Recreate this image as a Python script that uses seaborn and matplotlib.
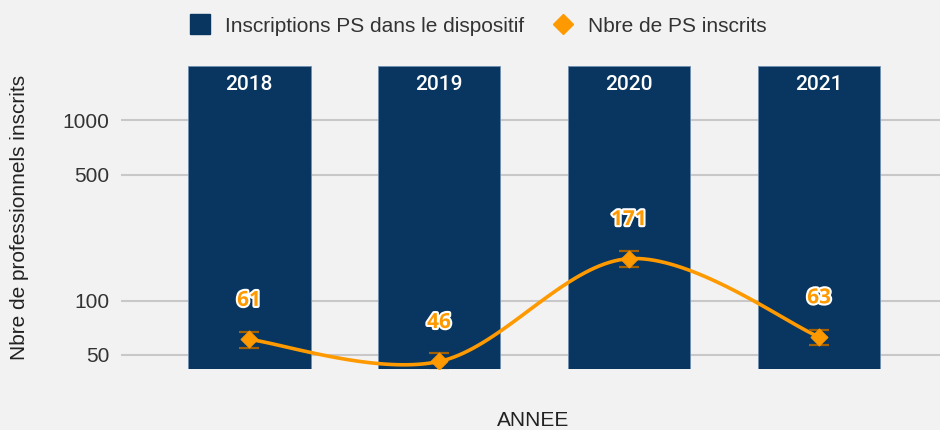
import numpy as np
import pandas as pd
import matplotlib
matplotlib.use('Agg')
import matplotlib.pyplot as plt
import matplotlib.patheffects as pe
from matplotlib.lines import Line2D
import seaborn as sns

# data
years = ["2018", "2019", "2020", "2021"]
inscriptions = [2000, 2000, 2000, 2000]   # bars run past the top of the axis
nb_ps = [61, 46, 171, 63]
nb_ps_err = [6, 5, 17, 6]
yticks = [50, 100, 500, 1000]

NAVY = "#083660"
ORANGE = "#ff9900"
ERR = "#a35f00"
BG = "#f2f2f2"


def catmull_rom(x, y, n=40):
    # smooth curve through the points (used only for drawing the line)
    px = np.concatenate([[x[0]], x, [x[-1]]])
    py = np.concatenate([[y[0]], y, [y[-1]]])
    xs, ys = [], []
    t = np.linspace(0, 1, n)
    for i in range(1, len(px) - 2):
        m1x, m1y = (px[i + 1] - px[i - 1]) / 2, (py[i + 1] - py[i - 1]) / 2
        m2x, m2y = (px[i + 2] - px[i]) / 2, (py[i + 2] - py[i]) / 2
        h00 = 2 * t**3 - 3 * t**2 + 1
        h10 = t**3 - 2 * t**2 + t
        h01 = -2 * t**3 + 3 * t**2
        h11 = t**3 - t**2
        xs.append(h00 * px[i] + h10 * m1x + h01 * px[i + 1] + h11 * m2x)
        ys.append(h00 * py[i] + h10 * m1y + h01 * py[i + 1] + h11 * m2y)
    return np.concatenate(xs), np.concatenate(ys)


sns.set_theme(style="white")
plt.rcParams["font.family"] = ["Liberation Sans", "DejaVu Sans"]

df = pd.DataFrame({"year": years, "inscriptions": inscriptions,
                   "nb": nb_ps, "err": nb_ps_err})

fig = plt.figure(figsize=(9.4, 4.3), dpi=100, facecolor=BG)
ax = fig.add_axes([121 / 940, 1 - 369 / 430, 819 / 940, (369 - 66) / 430])
ax.set_facecolor(BG)

sns.barplot(data=df, x="year", y="inscriptions", color=NAVY, saturation=1,
            width=0.647, edgecolor="#6f8fb0", linewidth=0.6, ax=ax, zorder=2)
ax.set_yscale("log")
ax.set_ylim(41.8, 2000)
ax.set_xlim(-0.674, 3.637)

xpos = np.arange(len(years))

# smooth line in log space
sx, sy = catmull_rom(xpos.astype(float), np.log10(nb_ps))
ax.plot(sx, 10 ** sy, color=ORANGE, lw=2.6, zorder=3, solid_capstyle="round")
ax.errorbar(xpos, nb_ps, yerr=nb_ps_err, fmt="none", ecolor=ERR,
            elinewidth=1.6, capsize=7.5, capthick=1.6, zorder=4)
sns.scatterplot(x=xpos, y=nb_ps, marker="D", s=75, color=ORANGE,
                edgecolor=ORANGE, ax=ax, zorder=5, legend=False)

for i, v in enumerate(nb_ps):
    ax.annotate(str(v), xy=(i, v), xytext=(0, 39), textcoords="offset pixels",
                ha="center", va="center", fontsize=15, fontweight="bold",
                color=ORANGE, family="Open Sans", zorder=6,
                path_effects=[pe.withStroke(linewidth=3, foreground="white")])

for i, yr in enumerate(years):
    ax.annotate(yr, xy=(i, 2000), xytext=(0, -18), textcoords="offset pixels",
                ha="center", va="center", fontsize=15, fontweight="medium",
                color="white", family="Roboto", zorder=6)

ax.set_yticks(yticks)
ax.set_yticklabels([str(t) for t in yticks])
ax.yaxis.set_minor_locator(matplotlib.ticker.NullLocator())
ax.tick_params(axis="y", length=0, pad=8.5, labelsize=15, labelcolor="#333333")
ax.set_xticks([])
ax.set_xlabel("")
ax.set_ylabel("")
ax.grid(axis="y", color="#c8c8c8", lw=1.5)
ax.set_axisbelow(True)
for s in ax.spines.values():
    s.set_visible(False)

fig.text(20 / 940, 1 - 217 / 430, "Nbre de professionnels inscrits",
         rotation=90, ha="center", va="center", fontsize=15, color="#222222")
fig.text(533 / 940, 1 - 420 / 430, "ANNEE", ha="center", va="center",
         fontsize=15, color="#222222")

handles = [
    Line2D([], [], marker="s", ls="none", color=NAVY, markersize=14.5),
    Line2D([], [], marker="D", ls="none", color=ORANGE, markersize=10),
]
fig.legend(handles, ["Inscriptions PS dans le dispositif", "Nbre de PS inscrits"],
           loc="center", bbox_to_anchor=(478 / 940, 1 - 26 / 430), ncol=2,
           frameon=False, fontsize=15, handlelength=1.0, handletextpad=0.7,
           columnspacing=1.4, labelcolor="#333333")

fig.savefig("out.png", dpi=100, facecolor=BG)
